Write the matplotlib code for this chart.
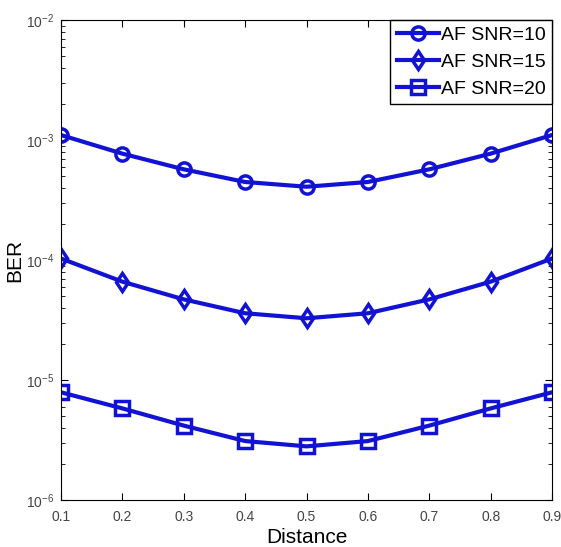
import matplotlib
matplotlib.use("Agg")
import matplotlib.pyplot as plt
from matplotlib.ticker import LogLocator, NullFormatter

plt.rcParams['font.family'] = ['Liberation Sans', 'DejaVu Sans']
plt.rcParams['mathtext.fontset'] = 'custom'
plt.rcParams['mathtext.rm'] = 'Liberation Sans'

distance = [0.1, 0.2, 0.3, 0.4, 0.5, 0.6, 0.7, 0.8, 0.9]
ber_snr10 = [1.1e-3, 7.7e-4, 5.7e-4, 4.47e-4, 4.08e-4, 4.47e-4, 5.7e-4, 7.7e-4, 1.1e-3]
ber_snr15 = [1.03e-4, 6.6e-5, 4.7e-5, 3.6e-5, 3.27e-5, 3.6e-5, 4.7e-5, 6.6e-5, 1.03e-4]
ber_snr20 = [7.9e-6, 5.8e-6, 4.17e-6, 3.1e-6, 2.8e-6, 3.1e-6, 4.17e-6, 5.8e-6, 7.9e-6]
labels = ['AF SNR=10', 'AF SNR=15', 'AF SNR=20']
xticks = [0.1, 0.2, 0.3, 0.4, 0.5, 0.6, 0.7, 0.8, 0.9]

fig = plt.figure(figsize=(5.61, 5.47), dpi=100)
ax = fig.add_axes([0.1087, 0.0859, 0.8753, 0.8775])

color = '#1212d4'
kw = dict(color=color, linewidth=3, markersize=9.5, markerfacecolor='none',
          markeredgewidth=2.5)
ax.plot(distance, ber_snr10, marker='o', label=labels[0], **kw)
ax.plot(distance, ber_snr15, marker='d', label=labels[1], **kw)
ax.plot(distance, ber_snr20, marker='s', label=labels[2], **kw)

ax.set_yscale('log')
ax.set_xlim(0.1, 0.9)
ax.set_ylim(1e-6, 1e-2)
ax.set_xticks(xticks)
ax.set_xticklabels([f'{t:.1f}' for t in xticks])
ax.yaxis.set_major_locator(LogLocator(base=10, numticks=10))
ax.yaxis.set_minor_locator(LogLocator(base=10, subs=range(2, 10), numticks=10))
ax.yaxis.set_minor_formatter(NullFormatter())
ax.tick_params(which='both', direction='in', top=True, right=True,
               labelsize=10, labelcolor='#444444')
ax.tick_params(which='major', length=5)
ax.tick_params(which='minor', length=3)
ax.tick_params(axis='x', pad=7)
ax.tick_params(axis='y', pad=5)

ax.set_xlabel('Distance', fontsize=15, labelpad=3)
ax.set_ylabel('BER', fontsize=15)
ax.yaxis.set_label_coords(-0.075, 0.5)

leg = ax.legend(loc='upper right', fontsize=14, fancybox=False,
                edgecolor='black', framealpha=1, borderaxespad=0.0,
                handlelength=2.2, handletextpad=0.08, labelspacing=0.48,
                borderpad=0.33)
leg.get_frame().set_linewidth(1.0)

fig.savefig('out.png', dpi=100)
